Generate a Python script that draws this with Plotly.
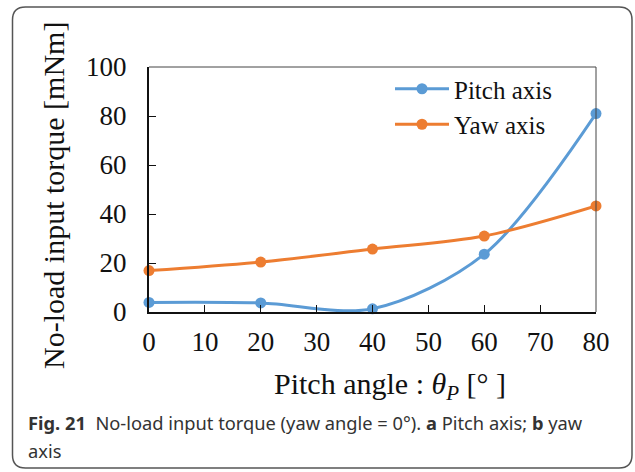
import plotly.graph_objects as go

pitch_angle = [0, 20, 40, 60, 80]
pitch_axis_torque = [3.9, 3.7, 1.3, 23.6, 81.0]
yaw_axis_torque = [16.9, 20.4, 25.7, 31.0, 43.3]
x_ticks = [0, 10, 20, 30, 40, 50, 60, 70, 80]
y_ticks = [0, 20, 40, 60, 80, 100]

W, H = 635, 472
L, R, T, B = 149, 39, 67, 160
pw, ph = W - L - R, H - T - B

def px(x):
    return (x - L) / pw

def py(y):
    return 1 - (y - T) / ph

SERIF = "Liberation Serif, Times New Roman, serif"
SANS = "Noto Sans, Open Sans, sans-serif"

fig = go.Figure()
fig.add_trace(go.Scatter(x=pitch_angle, y=pitch_axis_torque, name="Pitch axis",
                         mode="lines+markers", line=dict(color="#5B9BD5", width=3, shape="spline", smoothing=0.9),
                         marker=dict(size=11, color="#5B9BD5"), cliponaxis=False))
fig.add_trace(go.Scatter(x=pitch_angle, y=yaw_axis_torque, name="Yaw axis",
                         mode="lines+markers", line=dict(color="#ED7D31", width=3, shape="spline", smoothing=0.9),
                         marker=dict(size=11, color="#ED7D31"), cliponaxis=False))

fig.update_layout(
    width=W, height=H,
    margin=dict(l=L, r=R, t=T, b=B),
    paper_bgcolor="white", plot_bgcolor="white",
    font=dict(family=SERIF, size=27, color="#111"),
    showlegend=True,
    legend=dict(x=px(390), y=py(66), xanchor="left", yanchor="top",
                font=dict(family=SERIF, size=25, color="#111"),
                bgcolor="rgba(0,0,0,0)", tracegroupgap=0, itemwidth=54),
    xaxis=dict(range=[0, 80], tickvals=x_ticks, ticks="inside", ticklen=7, tickwidth=1,
               tickcolor="#111", showline=True, linecolor="#111", linewidth=2,
               showgrid=False, zeroline=False, tickfont=dict(family=SERIF, size=27),
               ticklabelstandoff=5),
    yaxis=dict(range=[0, 100], tickvals=y_ticks, ticks="inside", ticklen=7, tickwidth=1,
               tickcolor="#111", showline=True, linecolor="#111", linewidth=2,
               showgrid=False, zeroline=False, tickfont=dict(family=SERIF, size=27),
               ticklabelstandoff=15),
)

# top/right frame of the plot area
fig.add_shape(type="line", xref="paper", yref="paper", x0=0, x1=1, y0=1, y1=1,
              line=dict(color="#444", width=1))
fig.add_shape(type="line", xref="paper", yref="paper", x0=1, x1=1, y0=0, y1=1,
              line=dict(color="#444", width=1))

# rounded figure border
x0, x1, y0, y1, r = 12.5, 632, 7, 468, 13
path = (f"M {px(x0+r)},{py(y0)} L {px(x1-r)},{py(y0)} Q {px(x1)},{py(y0)} {px(x1)},{py(y0+r)} "
        f"L {px(x1)},{py(y1-r)} Q {px(x1)},{py(y1)} {px(x1-r)},{py(y1)} "
        f"L {px(x0+r)},{py(y1)} Q {px(x0)},{py(y1)} {px(x0)},{py(y1-r)} "
        f"L {px(x0)},{py(y0+r)} Q {px(x0)},{py(y0)} {px(x0+r)},{py(y0)} Z")
fig.add_shape(type="path", xref="paper", yref="paper", path=path,
              line=dict(color="#555", width=1.5), layer="above")

# axis titles
fig.add_annotation(text="No-load input torque [mNm]", xref="paper", yref="paper",
                   x=px(53), y=py(196), textangle=-90, showarrow=False,
                   font=dict(family=SERIF, size=30, color="#111"), xanchor="center", yanchor="middle")
fig.add_annotation(text="Pitch angle : <i>θ</i><sub><i>P</i></sub> [° ]", xref="paper", yref="paper",
                   x=px(390), y=py(386), showarrow=False,
                   font=dict(family=SERIF, size=30, color="#111"), xanchor="center", yanchor="middle")

# caption (two lines)
fig.add_annotation(text="<b>Fig. 21</b>  No-load input torque (yaw angle = 0°). <b>a</b> Pitch axis; <b>b</b> yaw",
                   xref="paper", yref="paper", x=px(26), y=py(422), xanchor="left", yanchor="middle",
                   align="left", showarrow=False,
                   font=dict(family=SANS, size=18.3, color="#333"))
fig.add_annotation(text="axis",
                   xref="paper", yref="paper", x=px(26), y=py(450), xanchor="left", yanchor="middle",
                   align="left", showarrow=False,
                   font=dict(family=SANS, size=18.3, color="#333"))

fig.write_html("out.html")
